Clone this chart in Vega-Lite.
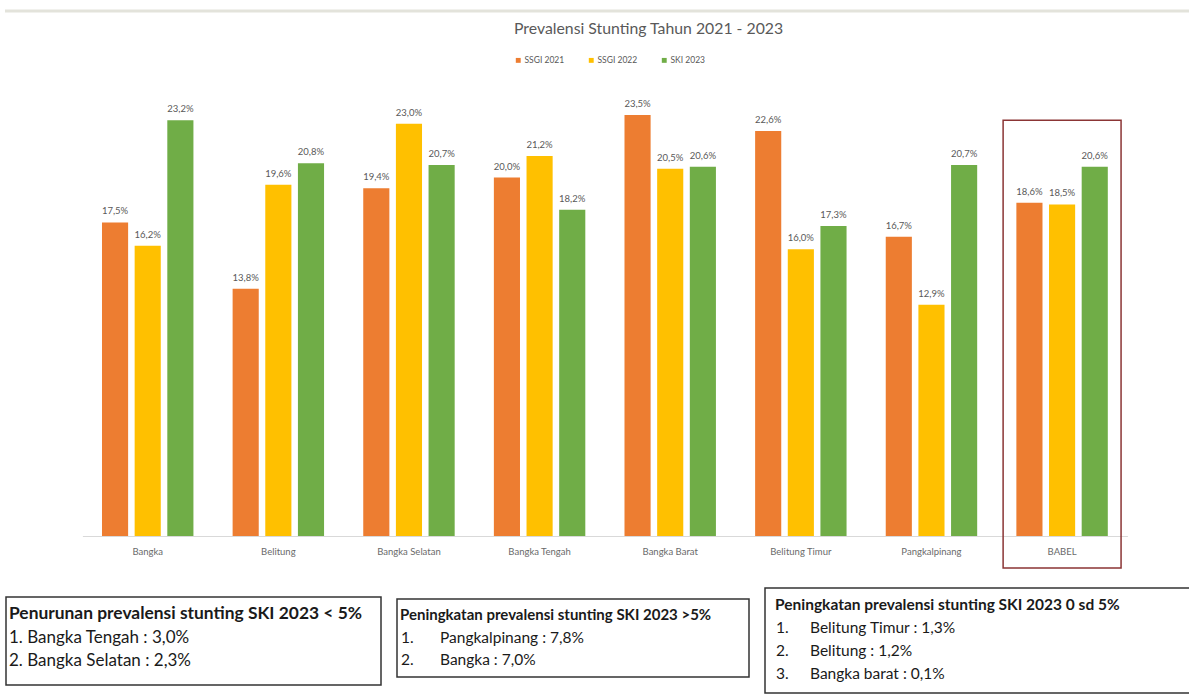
{
  "$schema": "https://vega.github.io/schema/vega-lite/v6.json",
  "width": 1189,
  "height": 694,
  "autosize": {"type": "none"},
  "padding": 0,
  "background": "white",
  "config": {
    "view": {"stroke": null},
    "font": "Lato",
    "locale": {"number": {"decimal": ",", "thousands": ".", "grouping": [3], "currency": ["Rp", ""]}}
  },
  "title": {
    "text": "Prevalensi Stunting Tahun 2021 - 2023",
    "anchor": "start",
    "frame": "group",
    "dx": 514,
    "dy": 42,
    "fontSize": 15.8,
    "fontWeight": "normal",
    "color": "#595959",
    "font": "Lato"
  },
  "resolve": {"scale": {"x": "independent", "y": "independent"}},
  "layer": [
    {
      "data": {
        "values": [
          {"cat": "Bangka", "series": "SSGI 2021", "v": 0.175},
          {"cat": "Bangka", "series": "SSGI 2022", "v": 0.162},
          {"cat": "Bangka", "series": "SKI 2023", "v": 0.232},
          {"cat": "Belitung", "series": "SSGI 2021", "v": 0.138},
          {"cat": "Belitung", "series": "SSGI 2022", "v": 0.196},
          {"cat": "Belitung", "series": "SKI 2023", "v": 0.208},
          {"cat": "Bangka Selatan", "series": "SSGI 2021", "v": 0.194},
          {"cat": "Bangka Selatan", "series": "SSGI 2022", "v": 0.230},
          {"cat": "Bangka Selatan", "series": "SKI 2023", "v": 0.207},
          {"cat": "Bangka Tengah", "series": "SSGI 2021", "v": 0.200},
          {"cat": "Bangka Tengah", "series": "SSGI 2022", "v": 0.212},
          {"cat": "Bangka Tengah", "series": "SKI 2023", "v": 0.182},
          {"cat": "Bangka Barat", "series": "SSGI 2021", "v": 0.235},
          {"cat": "Bangka Barat", "series": "SSGI 2022", "v": 0.205},
          {"cat": "Bangka Barat", "series": "SKI 2023", "v": 0.206},
          {"cat": "Belitung Timur", "series": "SSGI 2021", "v": 0.226},
          {"cat": "Belitung Timur", "series": "SSGI 2022", "v": 0.160},
          {"cat": "Belitung Timur", "series": "SKI 2023", "v": 0.173},
          {"cat": "Pangkalpinang", "series": "SSGI 2021", "v": 0.167},
          {"cat": "Pangkalpinang", "series": "SSGI 2022", "v": 0.129},
          {"cat": "Pangkalpinang", "series": "SKI 2023", "v": 0.207},
          {"cat": "BABEL", "series": "SSGI 2021", "v": 0.186},
          {"cat": "BABEL", "series": "SSGI 2022", "v": 0.185},
          {"cat": "BABEL", "series": "SKI 2023", "v": 0.206}
        ]
      },
      "layer": [
        {
          "mark": {"type": "bar"},
          "encoding": {
            "x": {
              "field": "cat", "type": "nominal",
              "scale": {"domain": ["Bangka", "Belitung", "Bangka Selatan", "Bangka Tengah", "Bangka Barat", "Belitung Timur", "Pangkalpinang", "BABEL"], "range": [82.4, 1127.4], "paddingInner": 0.3, "paddingOuter": 0.15},
              "axis": {"title": null, "labelAngle": 0, "labelFontSize": 9.5, "labelColor": "#6a6a6a", "ticks": false, "tickSize": 0, "labelPadding": 10, "domainColor": "#d9d9d9", "domainWidth": 1, "offset": -158, "grid": false}
            },
            "xOffset": {"field": "series", "type": "nominal", "scale": {"domain": ["SSGI 2021", "SSGI 2022", "SKI 2023"], "paddingInner": 0.2}},
            "y": {"field": "v", "type": "quantitative", "scale": {"domain": [0, 0.25], "range": [536, 88], "nice": false}, "axis": null},
            "color": {
              "field": "series", "type": "nominal",
              "scale": {"domain": ["SSGI 2021", "SSGI 2022", "SKI 2023"], "range": ["#ED7D31", "#FFC000", "#70AD47"]},
              "legend": {"orient": "none", "legendX": 514, "legendY": 56, "direction": "horizontal", "title": null, "symbolType": "square", "symbolSize": 24, "symbolStrokeWidth": 0, "labelFontSize": 8.5, "labelColor": "#595959", "labelOffset": 2, "columnPadding": 22}
            }
          }
        },
        {
          "mark": {"type": "text", "dy": -8, "baseline": "alphabetic", "fontSize": 9.5, "color": "#595959"},
          "encoding": {
            "x": {"field": "cat", "type": "nominal"},
            "xOffset": {"field": "series", "type": "nominal"},
            "y": {"field": "v", "type": "quantitative"},
            "text": {"field": "v", "type": "quantitative", "format": ".1%"}
          }
        },
        {
          "transform": [{"filter": "datum.cat == 'BABEL' && datum.series == 'SSGI 2021'"}],
          "mark": {"type": "rect", "fillOpacity": 0, "stroke": "#8b3535", "strokeWidth": 1.5, "width": {"band": 1.29}},
          "encoding": {
            "x": {"field": "cat", "type": "nominal"},
            "y": {"datum": 0.232, "type": "quantitative"},
            "y2": {"datum": -0.0179}
          }
        }
      ]
    },
    {
      "data": {"values": [{}]},
      "layer": [
        {
          "mark": {"type": "rule", "stroke": "#e3e3db", "strokeWidth": 3},
          "encoding": {
            "x": {"datum": 5, "type": "quantitative", "scale": {"domain": [0, 1189], "nice": false, "zero": false}, "axis": null},
            "x2": {"datum": 1189},
            "y": {"datum": 11, "type": "quantitative", "scale": {"domain": [0, 694], "reverse": true, "nice": false, "zero": false}, "axis": null}
          }
        },
        {
          "mark": {"type": "rect", "fill": "white", "stroke": "#333333", "strokeWidth": 1.5},
          "encoding": {
            "x": {"datum": 6, "type": "quantitative", "scale": {"domain": [0, 1189], "nice": false, "zero": false}, "axis": null},
            "x2": {"datum": 381},
            "y": {"datum": 597, "type": "quantitative", "scale": {"domain": [0, 694], "reverse": true, "nice": false, "zero": false}, "axis": null},
            "y2": {"datum": 685}
          }
        },
        {
          "mark": {"type": "text", "align": "left", "baseline": "alphabetic", "fontSize": 17.4, "fontWeight": "bold", "color": "#1a1a1a", "text": "Penurunan prevalensi stunting SKI 2023 < 5%"},
          "encoding": {
            "x": {"datum": 9, "type": "quantitative", "scale": {"domain": [0, 1189], "nice": false, "zero": false}, "axis": null},
            "y": {"datum": 619, "type": "quantitative", "scale": {"domain": [0, 694], "reverse": true, "nice": false, "zero": false}, "axis": null}
          }
        },
        {
          "mark": {"type": "text", "align": "left", "baseline": "alphabetic", "fontSize": 17, "lineHeight": 23, "color": "#1a1a1a", "text": ["1.  Bangka Tengah : 3,0%", "2. Bangka Selatan : 2,3%"]},
          "encoding": {
            "x": {"datum": 9, "type": "quantitative", "scale": {"domain": [0, 1189], "nice": false, "zero": false}, "axis": null},
            "y": {"datum": 643, "type": "quantitative", "scale": {"domain": [0, 694], "reverse": true, "nice": false, "zero": false}, "axis": null}
          }
        },
        {
          "mark": {"type": "rect", "fill": "white", "stroke": "#333333", "strokeWidth": 1.5},
          "encoding": {
            "x": {"datum": 397, "type": "quantitative", "scale": {"domain": [0, 1189], "nice": false, "zero": false}, "axis": null},
            "x2": {"datum": 749},
            "y": {"datum": 599, "type": "quantitative", "scale": {"domain": [0, 694], "reverse": true, "nice": false, "zero": false}, "axis": null},
            "y2": {"datum": 677}
          }
        },
        {
          "mark": {"type": "text", "align": "left", "baseline": "alphabetic", "fontSize": 15, "fontWeight": "bold", "color": "#1a1a1a", "text": "Peningkatan prevalensi stunting SKI 2023 >5%"},
          "encoding": {
            "x": {"datum": 400, "type": "quantitative", "scale": {"domain": [0, 1189], "nice": false, "zero": false}, "axis": null},
            "y": {"datum": 620, "type": "quantitative", "scale": {"domain": [0, 694], "reverse": true, "nice": false, "zero": false}, "axis": null}
          }
        },
        {
          "mark": {"type": "text", "align": "left", "baseline": "alphabetic", "fontSize": 15.5, "lineHeight": 22, "color": "#1a1a1a", "text": ["1.", "2."]},
          "encoding": {
            "x": {"datum": 401, "type": "quantitative", "scale": {"domain": [0, 1189], "nice": false, "zero": false}, "axis": null},
            "y": {"datum": 643, "type": "quantitative", "scale": {"domain": [0, 694], "reverse": true, "nice": false, "zero": false}, "axis": null}
          }
        },
        {
          "mark": {"type": "text", "align": "left", "baseline": "alphabetic", "fontSize": 15.5, "lineHeight": 22, "color": "#1a1a1a", "text": ["Pangkalpinang : 7,8%", "Bangka : 7,0%"]},
          "encoding": {
            "x": {"datum": 440, "type": "quantitative", "scale": {"domain": [0, 1189], "nice": false, "zero": false}, "axis": null},
            "y": {"datum": 643, "type": "quantitative", "scale": {"domain": [0, 694], "reverse": true, "nice": false, "zero": false}, "axis": null}
          }
        },
        {
          "mark": {"type": "rect", "fill": "white", "stroke": "#333333", "strokeWidth": 1.5},
          "encoding": {
            "x": {"datum": 765, "type": "quantitative", "scale": {"domain": [0, 1189], "nice": false, "zero": false}, "axis": null},
            "x2": {"datum": 1195},
            "y": {"datum": 588, "type": "quantitative", "scale": {"domain": [0, 694], "reverse": true, "nice": false, "zero": false}, "axis": null},
            "y2": {"datum": 693}
          }
        },
        {
          "mark": {"type": "text", "align": "left", "baseline": "alphabetic", "fontSize": 15.5, "fontWeight": "bold", "color": "#1a1a1a", "text": "Peningkatan prevalensi stunting SKI 2023 0 sd 5%"},
          "encoding": {
            "x": {"datum": 775, "type": "quantitative", "scale": {"domain": [0, 1189], "nice": false, "zero": false}, "axis": null},
            "y": {"datum": 610, "type": "quantitative", "scale": {"domain": [0, 694], "reverse": true, "nice": false, "zero": false}, "axis": null}
          }
        },
        {
          "mark": {"type": "text", "align": "left", "baseline": "alphabetic", "fontSize": 15.5, "lineHeight": 23, "color": "#1a1a1a", "text": ["1.", "2.", "3."]},
          "encoding": {
            "x": {"datum": 776, "type": "quantitative", "scale": {"domain": [0, 1189], "nice": false, "zero": false}, "axis": null},
            "y": {"datum": 633, "type": "quantitative", "scale": {"domain": [0, 694], "reverse": true, "nice": false, "zero": false}, "axis": null}
          }
        },
        {
          "mark": {"type": "text", "align": "left", "baseline": "alphabetic", "fontSize": 15.5, "lineHeight": 23, "color": "#1a1a1a", "text": ["Belitung Timur : 1,3%", "Belitung : 1,2%", "Bangka barat : 0,1%"]},
          "encoding": {
            "x": {"datum": 810, "type": "quantitative", "scale": {"domain": [0, 1189], "nice": false, "zero": false}, "axis": null},
            "y": {"datum": 633, "type": "quantitative", "scale": {"domain": [0, 694], "reverse": true, "nice": false, "zero": false}, "axis": null}
          }
        }
      ]
    }
  ]
}
